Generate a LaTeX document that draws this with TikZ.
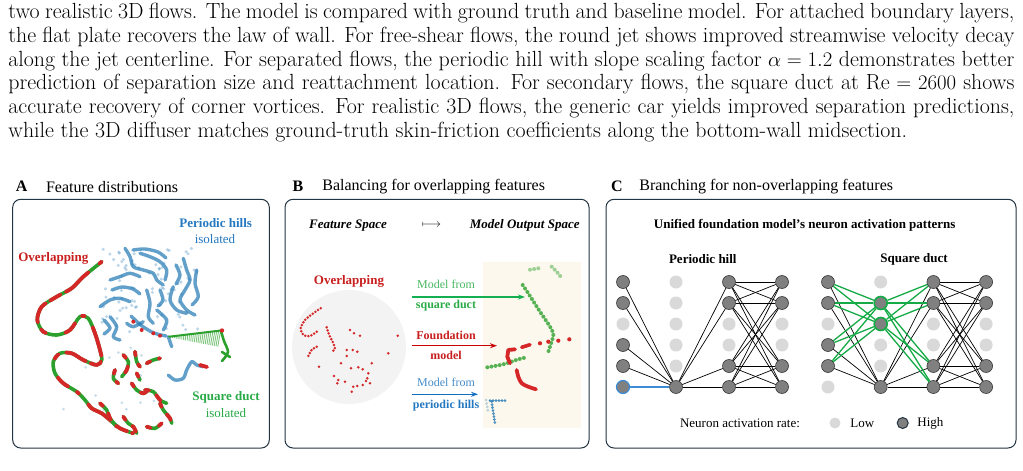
\documentclass[tikz,border=0pt]{standalone}
\usepackage{fontspec}
\usepackage{amsmath}
\newfontfamily\tms{Liberation Serif}
\usetikzlibrary{arrows.meta}

\definecolor{frameblue}{RGB}{35,52,66}
\definecolor{ptblue}{RGB}{31,119,180}
\definecolor{ptgreen}{RGB}{44,160,44}
\definecolor{ptred}{RGB}{214,39,40}
\definecolor{txtblue}{RGB}{36,120,192}
\definecolor{txtgreen}{RGB}{40,170,70}
\definecolor{txtred}{RGB}{200,30,30}
\definecolor{arrgreen}{RGB}{20,175,80}
\definecolor{arrred}{RGB}{200,0,0}
\definecolor{arrblue}{RGB}{20,110,190}
\definecolor{nodegray}{RGB}{128,128,128}
\definecolor{nodeline}{RGB}{55,55,55}
\definecolor{nodelight}{RGB}{217,217,217}
\definecolor{edgegreen}{RGB}{20,170,70}
\definecolor{edgeblue}{RGB}{60,140,215}
\definecolor{cream}{RGB}{253,248,238}
\definecolor{circgray}{RGB}{243,243,243}

\tikzset{every picture/.style={line width=0.75pt}}
\tikzset{
  para/.style={font=\fontsize{21.9}{24}\selectfont, inner sep=0pt, anchor=base west},
  ttl/.style={font=\tms\fontsize{16}{18}\selectfont, inner sep=0pt},
  lbl/.style={font=\tms\fontsize{13}{15}\selectfont, inner sep=0pt},
  blbl/.style={font=\tms\bfseries\fontsize{13}{15}\selectfont, inner sep=0pt},
  slbl/.style={font=\tms\fontsize{12}{14}\selectfont, inner sep=0pt},
  sblbl/.style={font=\tms\bfseries\fontsize{12}{14}\selectfont, inner sep=0pt},
  panel/.style={draw=frameblue, line width=1pt, rounded corners=8pt},
  hi/.style={circle, fill=nodegray, draw=nodeline, line width=0.6pt, minimum size=13pt, inner sep=0pt},
  lo/.style={circle, fill=nodelight, minimum size=13pt, inner sep=0pt},
  wire/.style={line width=0.7pt, black},
  gwire/.style={line width=1.3pt, edgegreen},
  bstrand/.style={line width=3.4pt, line cap=round, line join=round, ptblue, opacity=.7},
  gstrand/.style={line width=3.6pt, line cap=round, line join=round, ptgreen},
  rstrand/.style={line width=3.8pt, line cap=round, line join=round, ptred},
  rdots/.style={ptred, line width=2.8pt, line cap=round, dash pattern=on 0pt off 3.2pt},
  gdots/.style={ptgreen, line width=4pt, line cap=round, dash pattern=on 0pt off 4.2pt, opacity=.8},
  flow/.style={line width=1.5pt, -{Stealth[length=7pt,width=5pt]}}
}

\begin{document}
\begin{tikzpicture}[x=1pt,y=1pt,yscale=-1]
\useasboundingbox (0,0) rectangle (1023,471);

% Caption text
\node[para] (line1) at (8,18.5) {\makebox[1006pt][s]{two realistic 3D flows. The model is compared with ground truth and baseline model. For attached boundary layers,}};
\node[para] (line2) at (8,42.3) {\makebox[1006pt][s]{the flat plate recovers the law of wall. For free-shear flows, the round jet shows improved streamwise velocity decay}};
\node[para] (line3) at (8,66.1) {\makebox[1006pt][s]{along the jet centerline. For separated flows, the periodic hill with slope scaling factor $\alpha = 1.2$ demonstrates better}};
\node[para] (line4) at (8,89.9) {\makebox[1006pt][s]{prediction of separation size and reattachment location. For secondary flows, the square duct at $\mathrm{Re} = 2600$ shows}};
\node[para] (line5) at (8,113.7) {\makebox[1006pt][s]{accurate recovery of corner vortices. For realistic 3D flows, the generic car yields improved separation predictions,}};
\node[para] (line6) at (8,137.5) {while the 3D diffuser matches ground-truth skin-friction coefficients along the bottom-wall midsection.};

% Panel titles
\node[ttl, font=\tms\bfseries\fontsize{16}{18}\selectfont] (la) at (21.7,186.7) {A};
\node[ttl, anchor=west] (ta) at (45.7,186.7) {Feature distributions};
\node[ttl, font=\tms\bfseries\fontsize{16}{18}\selectfont] (lb) at (298,186.7) {B};
\node[ttl, anchor=west] (tb) at (322,186.7) {Balancing for overlapping features};
\node[ttl, font=\tms\bfseries\fontsize{16}{18}\selectfont] (lc) at (617,186.7) {C};
\node[ttl, anchor=west] (tc) at (639,186.7) {Branching for non-overlapping features};

%Shape: Rectangle [panel frames]
\draw[panel] (12.7,199.3) rectangle (269.3,448);
\draw[panel] (285,199.3) rectangle (589,448);
\draw[panel] (606,199.3) rectangle (1016,448);

%%%%%%%%%%%%%%%% Panel A
% scattered points
\pgfmathsetseed{11}
\foreach \i in {1,...,80}{
  \pgfmathsetmacro{\px}{102+rnd*98}
  \pgfmathsetmacro{\py}{248+rnd*85}
  \fill[ptblue, opacity=.3] (\px,\py) circle (1.7);
}
\foreach \i in {1,...,14}{
  \pgfmathsetmacro{\px}{60+rnd*110}
  \pgfmathsetmacro{\py}{340+rnd*90}
  \fill[ptblue, opacity=.25] (\px,\py) circle (1.5);
}
% blue strands
\foreach \pts in {
  {(125,248.3) (130,256.7) (133.3,266.7) (143.3,270) (153.3,273.3) (156.7,280) (163.3,285)},
  {(140,253.3) (150,256.7) (160,261.7) (166.7,270) (165,280)},
  {(133,250) (145,249) (158,252) (166,258)},
  {(183.3,258.3) (186.7,270) (190,280) (185,290) (180,300) (186.7,310) (195,315)},
  {(196.7,270) (195,283.3) (198.3,296.7) (192,305)},
  {(173.3,286.7) (170,300) (176.7,310) (186.7,313.3)},
  {(176,265) (180,275) (176,284)},
  {(100,306.7) (110,300) (120,298.3) (130,301.7)},
  {(110,280) (120,276.7) (130,273.3) (140,276.7)},
  {(112,290) (122,287) (133,289) (140,294)},
  {(110,316.7) (116.7,326.7) (113.3,336.7) (120,340)},
  {(104,320) (110,328) (104,334)},
  {(146.7,290) (150,303.3) (148.3,316.7) (153.3,323.3)},
  {(126.7,323.3) (133.3,326.7) (143.3,321.7)},
  {(156.7,310) (166.7,320) (163.3,330)},
  {(160,290) (163,300) (158,306)},
  {(131,316) (142,326) (154,333) (166,336)},
  {(168.3,336.7) (171.7,346.7)},
  {(168.3,375) (175,380) (183.3,378.3) (186.7,370) (191.7,361.7) (196.7,365) (203.3,366.7)}}{
  \draw[bstrand] plot[smooth] coordinates \pts;
}
% red points bridging the clusters
\foreach \x/\y in {133.3/321.7, 141.7/330, 153.3/333.3, 160/335.7}
  \fill[ptred] (\x,\y) circle (2);
% main overlapping curve
\draw[gstrand] plot[smooth] coordinates {(101.7,261.7) (83.3,276.7) (71.7,288.3) (56.7,296.7) (41.7,306.7) (37.3,320) (43.3,331.7) (56.7,335) (70,330) (80,316.7) (88.3,318.3) (95,333.3) (100,350) (101.7,360) (96.7,365) (83.3,360) (71.7,353.3) (60,353.3) (53.3,361.7) (55,373.3) (63.3,383.3) (76.7,391.7) (85,400) (91.7,408.3) (101.7,413.3) (110,420) (120,428.3) (133.3,433.3)};
\draw[rstrand, dash pattern=on 3pt off 14pt on 30pt off 6pt on 12pt off 5pt on 22pt off 8pt on 6pt off 20pt on 14pt off 10pt] plot[smooth] coordinates {(101.7,261.7) (83.3,276.7) (71.7,288.3) (56.7,296.7) (41.7,306.7) (37.3,320) (43.3,331.7) (56.7,335) (70,330) (80,316.7) (88.3,318.3) (95,333.3) (100,350) (101.7,360) (96.7,365) (83.3,360) (71.7,353.3) (60,353.3) (53.3,361.7) (55,373.3) (63.3,383.3) (76.7,391.7) (85,400) (91.7,408.3) (101.7,413.3) (110,420) (120,428.3) (133.3,433.3)};
% short mixed strands
\foreach \pts in {
  {(123.3,355) (128.3,361.7) (126.7,370) (121.7,376.7)},
  {(115,370) (113.3,378.3) (118.3,383.3)},
  {(135,351.7) (136.7,361.7) (140,366.7)},
  {(146.7,363.3) (153.3,360) (160,358.3)},
  {(131.7,383.3) (136.7,390) (143.3,393.3) (148.3,390)},
  {(136.7,373.3) (140,380)},
  {(145,390) (153.3,391.7) (160,400) (166.7,403.3)},
  {(160,403.3) (163.3,410) (170,418.3) (171.7,423.3)},
  {(123.3,416.7) (128.3,423.3) (133.3,426.7) (136.7,433.3)},
  {(146.7,426.7) (155,428.3) (161.7,423.3)},
  {(100,403.3) (106.7,410) (110,418.3) (116.7,426.7)}}{
  \draw[gstrand] plot[smooth] coordinates \pts;
  \draw[rstrand, dash pattern=on 4pt off 9pt on 7pt off 8pt] plot[smooth] coordinates \pts;
}
\draw[rstrand] (200,365) -- (207,367);
% green fan
\foreach \k in {0,...,26}
  \draw[ptgreen, opacity=.6, line width=0.9pt] ({170+\k*1.95},{336.5-\k*0.25}) -- ({171+\k*1.8},{337.5+\k*0.35});
\draw[gstrand, line width=2pt] (169,336.7) -- (221,330.5);
\draw[gstrand, line width=2.6pt] plot[smooth] coordinates {(221,331) (224,341) (228,352) (222,361)};
\draw[gstrand, line width=2.6pt] (222,352) -- (230,357);
\fill[ptred] (222,330.5) circle (2.2);

% Text Node
\node[blbl, text=txtblue] (phl) at (215.7,223.3) {Periodic hills};
\node[lbl, text=txtblue] (phi) at (215,239.3) {isolated};
\node[blbl, text=txtred] (ovl) at (53.3,258.3) {Overlapping};
\node[blbl, text=txtgreen] (sdl) at (226,397.7) {Square duct};
\node[lbl, text=txtgreen] (sdi) at (226,413.3) {isolated};

%%%%%%%%%%%%%%%% Panel B
\node[font=\tms\bfseries\itshape\fontsize{13}{15}\selectfont, inner sep=0pt] (fsp) at (348,225.7) {Feature Space};
\node[font=\fontsize{13}{15}\selectfont, inner sep=0pt] (mapsto) at (431.5,225.7) {$\longmapsto$};
\node[font=\tms\bfseries\itshape\fontsize{13}{15}\selectfont, inner sep=0pt] (osp) at (524.7,225.7) {Model Output Space};

%Shape: Circle
\fill[circgray] (349,347) circle (57);
\node[blbl, text=txtred] (ovb) at (349,281) {Overlapping};
\draw[rdots] plot[smooth] coordinates {(320.7,308.3) (313.3,313.3) (305,320) (300.7,328.3) (303.3,335) (310,336) (316.7,331.7)};
\draw[rdots] plot[smooth] coordinates {(316.7,346.7) (311.7,350) (308.3,356)};
\draw[rdots] plot[smooth] coordinates {(326.7,327.3) (329.3,335) (333.3,343.3) (335,349) (331.7,351.7)};
\foreach \x/\y in {350/330, 354/333.3, 360/335.7, 397.7/335.7, 346.7/350, 352.7/350, 357.3/351.7, 388.3/353.3, 371.7/363.3, 319/366.7, 341/363.3, 351/368.3, 358.3/367.3, 362.7/369.3, 368.3/373.3, 367.3/378.3, 366/381, 370/383.3, 334/376, 338.3/380, 337.3/383.3, 345/381.7, 353.3/386.7, 357.3/386, 351.7/391.7, 362.7/385, 346.7/356}
  \fill[ptred] (\x,\y) circle (1.4);

%Shape: Rectangle
\fill[cream] (483.3,261.7) rectangle (580.7,428);
% output points
\draw[gdots, opacity=.45] (538.3,268.3) -- (528.3,270);
\draw[gdots, opacity=.45] (551.7,266.7) -- (556.7,271.7) -- (560.7,276.7);
\draw[gdots] plot[smooth] coordinates {(522.7,285) (530,296) (540,311.7) (550,326.7) (553.3,335) (550,346.7) (548.3,351.7)};
\draw[gdots] plot[smooth] coordinates {(487.3,367.3) (503.3,364.3) (518.3,359.3) (525,357.7)};
\draw[ptred, line width=3.6pt, line cap=round] (521.7,347.3) -- (530,344.7);
\foreach \x/\y in {540/343.3, 548.3/341.7, 558.3/340.7, 569.3/339.3}
  \fill[ptred] (\x,\y) circle (2.1);
\draw[ptred, line width=3.8pt, line cap=round, line join=round] (515,349.3) -- (508.3,350) -- (507.3,356.7) -- (510,363.3);
\draw[ptred, line width=3.8pt, line cap=round, line join=round] plot[smooth] coordinates {(516.7,370) (518.3,376.7) (521.7,383.3) (528.3,386.7) (536,389.3)};
\draw[ptblue, line width=3pt, line cap=round, dash pattern=on 0pt off 3pt, opacity=.8] (490,400.7) -- (506,400.7);
\draw[ptblue, line width=3pt, line cap=round, dash pattern=on 0pt off 3pt, opacity=.8] (491.7,401.7) -- (492.7,408.3) -- (495,423.3);
\draw[ptblue, line width=3pt, line cap=round, dash pattern=on 0pt off 3.5pt, opacity=.3] (486,400) -- (487.3,406.7) -- (488.3,413.3);

% arrows
\coordinate (gs) at (412,297);
\coordinate (ge) at (525,297);
\coordinate (rs) at (412,345.7);
\coordinate (re) at (497,345.7);
\coordinate (bs) at (412,394.3);
\coordinate (be) at (478,394.3);
\draw[flow, arrgreen] (gs) -- (ge);
\draw[flow, arrred] (rs) -- (re);
\draw[flow, arrblue] (bs) -- (be);

% Text Node
\node[slbl, text=txtgreen!85] (mfg) at (446,284.3) {Model from};
\node[sblbl, text=txtgreen] (sqd) at (446,306) {square duct};
\node[sblbl, text=txtred] (fnd) at (446,335) {Foundation};
\node[sblbl, text=txtred] (mdl) at (446,355.7) {model};
\node[slbl, text=txtblue!85] (mfb) at (446,382.7) {Model from};
\node[sblbl, text=txtblue] (phb) at (446,405.3) {periodic hills};

%%%%%%%%%%%%%%%% Panel C
\node[blbl] (uni) at (804.7,225) {Unified foundation model’s neuron activation patterns};
\node[blbl] (phc) at (702.8,259) {Periodic hill};
\node[blbl] (sdc) at (914,259) {Square duct};

% periodic hill neurons
\foreach \c/\r in {1/3, 2/1, 2/2, 2/3, 2/4, 2/5, 3/3, 3/4, 4/3, 4/4}
  \node[lo] (p\c\r) at ({623+(\c-1)*53},{282+(\r-1)*21}) {};
\foreach \c/\r in {1/1, 1/2, 1/4, 1/5, 2/6, 3/1, 3/2, 3/5, 3/6, 4/1, 4/2, 4/5, 4/6}
  \node[hi] (p\c\r) at ({623+(\c-1)*53},{282+(\r-1)*21}) {};
\node[hi, draw=edgeblue, line width=1.2pt] (p16) at (623,387) {};
\foreach \a in {11,12,14,15} \draw[wire] (p\a) -- (p26);
\draw[edgeblue, line width=1.4pt] (p16) -- (p26);
\foreach \b in {31,32,35,36} \draw[wire] (p26) -- (p\b);
\foreach \a in {31,32,35,36} \foreach \b in {41,42,45,46} \draw[wire] (p\a) -- (p\b);

% square duct neurons
\foreach \c/\r in {1/3, 1/6, 2/1, 2/4, 2/5, 3/3, 3/4, 4/3, 4/4}
  \node[lo] (s\c\r) at ({828+(\c-1)*52.7},{282+(\r-1)*21}) {};
\foreach \c/\r in {1/1, 1/2, 1/4, 1/5, 2/6, 3/1, 3/2, 3/5, 3/6, 4/1, 4/2, 4/5, 4/6}
  \node[hi] (s\c\r) at ({828+(\c-1)*52.7},{282+(\r-1)*21}) {};
\foreach \r in {2,3}
  \node[hi, draw=edgegreen, line width=1.6pt] (s2\r) at (880.7,{282+(\r-1)*21}) {};
\foreach \a in {11,12,14,15} \draw[wire] (s\a) -- (s26);
\foreach \b in {31,32,35,36} \draw[wire] (s26) -- (s\b);
\foreach \a in {31,32,35,36} \foreach \b in {41,42,45,46} \draw[wire] (s\a) -- (s\b);
\foreach \a in {11,12,14,15} \foreach \b in {22,23} \draw[gwire] (s\a) -- (s\b);
\foreach \a in {22,23} \foreach \b in {31,32,35,36} \draw[gwire] (s\a) -- (s\b);

% legend
\node[lbl] (leg) at (740,423) {Neuron activation rate:};
\node[lo, minimum size=11pt] (lowdot) at (835,423) {};
\node[lbl, anchor=west] (lowtxt) at (850,423) {Low};
\node[hi, minimum size=11pt, draw=frameblue, line width=1pt] (highdot) at (902.7,423) {};
\node[lbl, anchor=west] (hightxt) at (917,423) {High};

\end{tikzpicture}
\end{document}
